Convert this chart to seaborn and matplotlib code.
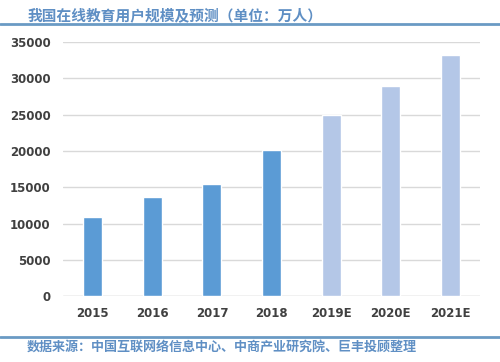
import matplotlib
matplotlib.use("Agg")
import matplotlib.pyplot as plt
import seaborn as sns
import pandas as pd

years = ["2015", "2016", "2017", "2018", "2019E", "2020E", "2021E"]
users = [10900, 13700, 15400, 20100, 25000, 29000, 33200]
kind = ["实际", "实际", "实际", "实际", "预测", "预测", "预测"]

sns.set_style("white")
plt.rcParams['font.family'] = ['Noto Sans CJK SC', 'DejaVu Sans']

df = pd.DataFrame({"年份": years, "用户": users, "类型": kind})

fig = plt.figure(figsize=(5, 3.62), dpi=100)
ax = fig.add_axes([0.126, 0.182, 0.834, 0.702])
sns.barplot(data=df, x="年份", y="用户", hue="类型",
            palette={"实际": "#5B9BD5", "预测": "#B4C7E7"},
            dodge=False, width=0.32, saturation=1, legend=False, ax=ax)

ax.set_ylim(0, 35000)
ax.set_yticks(range(0, 35001, 5000))
ax.yaxis.grid(True, color="#D9D9D9", linewidth=1)
ax.set_axisbelow(True)
sns.despine(ax=ax, left=True, bottom=True)
ax.axhline(0, color="#D9D9D9", linewidth=1, zorder=0)
ax.set_xlabel("")
ax.set_ylabel("")
ax.tick_params(axis="both", length=0, labelsize=9, labelcolor="#404040")
ax.tick_params(axis="y", pad=9)
ax.tick_params(axis="x", pad=8)
for lab in ax.get_xticklabels() + ax.get_yticklabels():
    lab.set_fontweight("bold")
    lab.set_family("DejaVu Sans")
    lab.set_fontsize(8.5)

title_color = "#5F8FC4"
fig.text(0.056, 0.958, "我国在线教育用户规模及预测（单位：万人）", fontsize=10.6,
         fontweight="bold", color=title_color, va="center")
fig.add_artist(plt.Line2D([0, 1], [0.935, 0.935], color="#6A9AC4", linewidth=2))
fig.add_artist(plt.Line2D([0, 1], [0.07, 0.07], color="#6A9AC4", linewidth=2))
fig.text(0.054, 0.04, "数据来源：中国互联网络信息中心、中商产业研究院、巨丰投顾整理",
         fontsize=9.4, fontweight="bold", color=title_color, va="center")

fig.savefig("out.png", dpi=100)
